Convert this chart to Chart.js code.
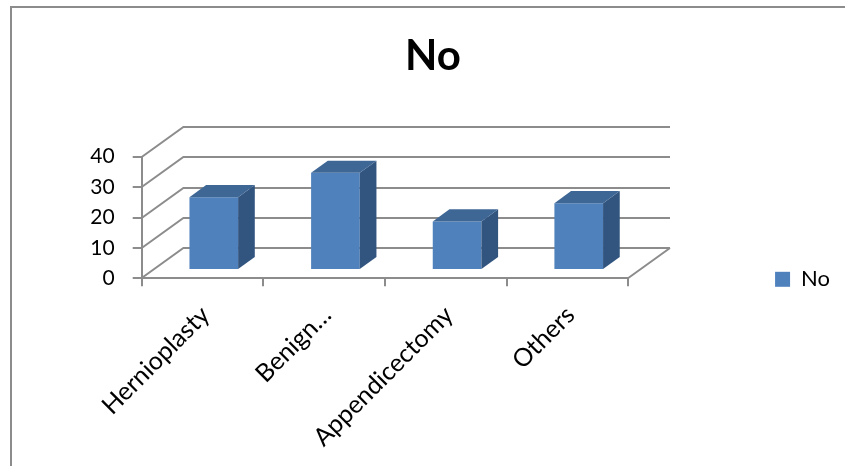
<!DOCTYPE html>
<html>
<head>
<meta charset="utf-8">
<title>No</title>
<script src="https://cdn.jsdelivr.net/npm/chart.js@4"></script>
<style>
  html, body { margin: 0; padding: 0; background: #fff; overflow: hidden; }
  #wrap { position: relative; width: 845px; height: 466px; overflow: hidden; }
  #wrap canvas { position: absolute; left: 0; top: 0; }
  #frame { position: absolute; left: 10px; top: 6px; width: 900px; height: 500px;
           border-left: 2px solid #8c8c8c; border-top: 2px solid #8c8c8c; pointer-events: none; }
</style>
</head>
<body>
<div id="wrap">
  <canvas id="chart" width="845" height="466"></canvas>
  <div id="frame"></div>
</div>
<script>
// Chart data
const categories = ['Hernioplasty', 'Benign…', 'Appendicectomy', 'Others'];
const seriesName = 'No';
const noValues = [24, 32, 16, 22];
const chartTitle = 'No';
const yMin = 0;
const yMax = 40;
const yStep = 10;

// Styling
const FONT = 'Lato';
const GRID = '#8c8c8c';
const FRONT = '#4f81bd';
const TOP = '#3e6796';
const SIDE = '#325580';
// Depth of the 3-D box (back wall offset from the front plane)
const DEPTH = { dx: 41.7, dy: -30.4 };
const BAR_FRONT = 0.27;   // where the bar's front face sits inside the depth
const BAR_DEPTH = 0.40;   // how deep each bar is
const PAD_RIGHT = 5;

const depthPlugin = {
  id: 'depth3d',
  beforeDatasetsDraw(chart) {
    const { ctx, chartArea: a, scales: { y } } = chart;
    ctx.save();
    ctx.strokeStyle = GRID;
    ctx.lineWidth = 2;
    ctx.beginPath();
    y.ticks.forEach(t => {
      const py = Math.round(y.getPixelForValue(t.value));
      const by = Math.round(py + DEPTH.dy);
      ctx.moveTo(a.left, py);
      ctx.lineTo(a.left + DEPTH.dx, by);
      ctx.lineTo(a.right + DEPTH.dx, by);
    });
    const y0 = Math.round(y.getPixelForValue(yMin));
    ctx.moveTo(a.right, y0);
    ctx.lineTo(a.right + DEPTH.dx, Math.round(y0 + DEPTH.dy));
    ctx.stroke();
    ctx.restore();
  },
  beforeDatasetDraw(chart) {
    chart.ctx.save();
    chart.ctx.translate(DEPTH.dx * BAR_FRONT, DEPTH.dy * BAR_FRONT);
  },
  afterDatasetDraw(chart, args) {
    const ctx = chart.ctx;
    const ddx = DEPTH.dx * BAR_DEPTH, ddy = DEPTH.dy * BAR_DEPTH;
    args.meta.data.forEach(bar => {
      const { x, y, base, width } = bar.getProps(['x', 'y', 'base', 'width'], true);
      const l = x - width / 2, r = x + width / 2;
      ctx.fillStyle = SIDE;
      ctx.beginPath();
      ctx.moveTo(r, y);
      ctx.lineTo(r + ddx, y + ddy);
      ctx.lineTo(r + ddx, base + ddy);
      ctx.lineTo(r, base);
      ctx.closePath();
      ctx.fill();
      ctx.fillStyle = TOP;
      ctx.beginPath();
      ctx.moveTo(l, y);
      ctx.lineTo(l + ddx, y + ddy);
      ctx.lineTo(r + ddx, y + ddy);
      ctx.lineTo(r, y);
      ctx.closePath();
      ctx.fill();
    });
    ctx.restore();
  }
};

new Chart(document.getElementById('chart'), {
  type: 'bar',
  data: {
    labels: categories,
    datasets: [{
      label: seriesName,
      data: noValues,
      backgroundColor: FRONT,
      borderWidth: 0,
      barPercentage: 0.4,
      categoryPercentage: 1
    }]
  },
  options: {
    responsive: false,
    animation: false,
    devicePixelRatio: 1,
    layout: { padding: { left: 26, right: PAD_RIGHT, top: 0, bottom: 0 } },
    plugins: {
      title: {
        display: true,
        text: chartTitle,
        color: '#000',
        font: { family: FONT, size: 42, weight: 'bold' },
        padding: { top: 31.6, bottom: 74.7 }
      },
      legend: {
        position: 'right',
        title: { display: true, text: '', font: { size: 10 }, padding: { top: 80.6, bottom: 0 } },
        labels: {
          boxWidth: 15, boxHeight: 15, padding: 10, color: '#000',
          font: { family: FONT, size: 22 }
        }
      },
      tooltip: { enabled: false }
    },
    scales: {
      x: {
        grid: { offset: true, drawOnChartArea: false, drawTicks: true, tickLength: 8, color: GRID, lineWidth: 2 },
        border: { display: true, color: GRID, width: 2 },
        ticks: {
          autoSkip: false, maxRotation: 45, minRotation: 45, padding: 14, labelOffset: 3,
          color: '#000', font: { family: FONT, size: 25 }
        },
        afterFit(s) { s.height = 187.7; s.paddingLeft = 0; s.paddingRight = 0; }
      },
      y: {
        min: yMin, max: yMax,
        ticks: { stepSize: yStep, padding: 18, color: '#000', font: { family: FONT, size: 21 } },
        grid: { drawOnChartArea: false, drawTicks: true, tickLength: 9, color: GRID, lineWidth: 2 },
        border: { display: true, color: GRID, width: 2 },
        afterFit(s) { s.width = 115.7; }
      },
      depthRoom: {
        type: 'linear', position: 'right', display: true,
        grid: { display: false }, border: { display: false }, ticks: { display: false },
        afterFit(s) { s.width = Math.max(0, s.chart.width - PAD_RIGHT - s.chart.legend.width - 628.3); }
      }
    }
  },
  plugins: [depthPlugin]
});
</script>
</body>
</html>
